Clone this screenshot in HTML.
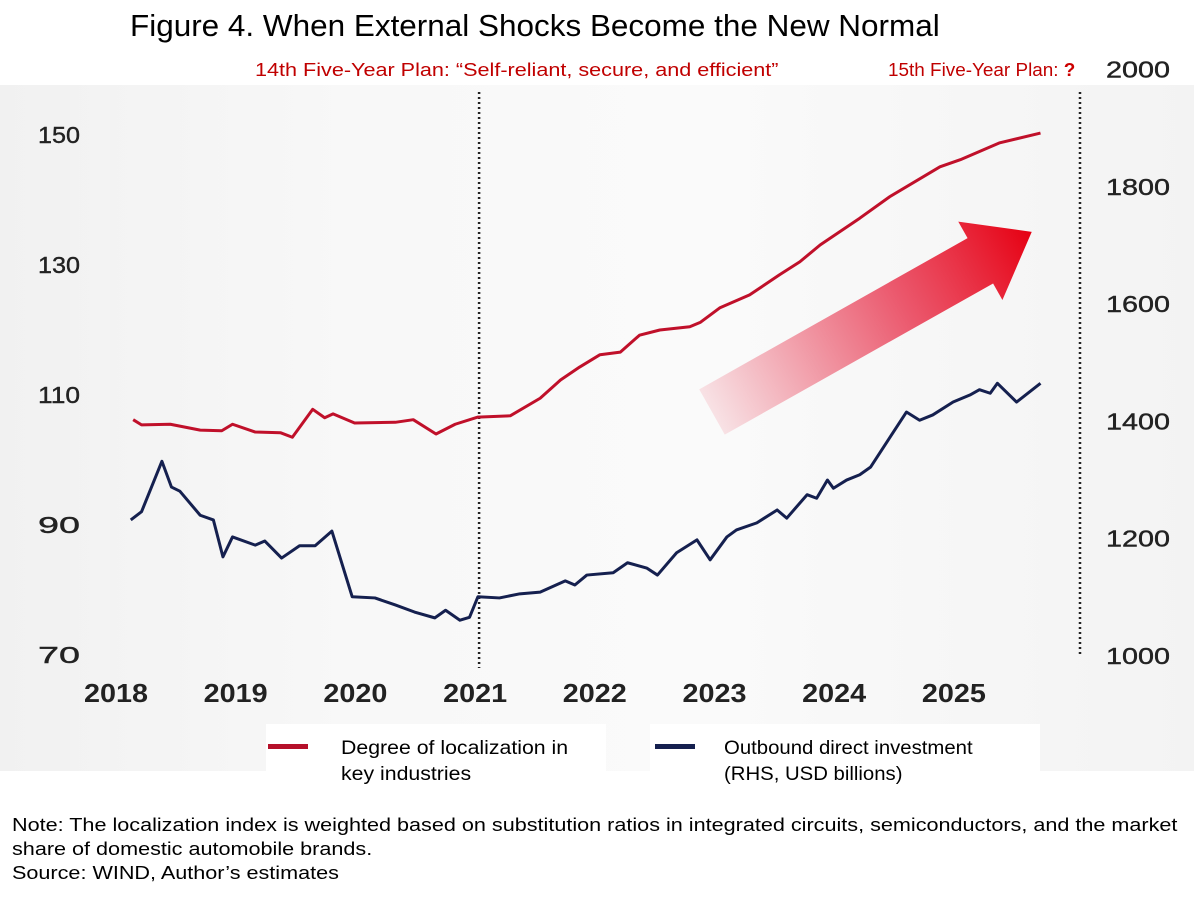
<!DOCTYPE html>
<html><head><meta charset="utf-8"><style>
body{margin:0;width:1194px;height:914px;background:#fff;overflow:hidden;font-family:"Liberation Sans",sans-serif;}
.t{position:absolute;white-space:nowrap;transform-origin:0 0;}
</style></head><body>
<div style="position:absolute;left:0;top:85px;width:1194px;height:686px;background:linear-gradient(90deg,#f1f1f1,#f8f8f8 30%,#fafafa 60%,#f3f3f3);"></div>
<div class="t" style="left:130px;top:8px;font-size:31px;color:#000;transform:scaleX(1.015)">Figure 4. When External Shocks Become the New Normal</div>
<div class="t" style="left:255px;top:60px;font-size:18px;color:#c00000;transform:scaleX(1.2)">14th Five-Year Plan: “Self-reliant, secure, and efficient”</div>
<div class="t" style="left:888px;top:60px;font-size:18px;color:#c00000;transform:scaleX(1.05)">15th Five-Year Plan: <b style="color:#c00;font-size:18px">?</b></div>
<div style="position:absolute;left:266px;top:724px;width:340px;height:70px;background:#fff"></div>
<div style="position:absolute;left:650px;top:724px;width:390px;height:70px;background:#fff"></div>
<svg id="c" width="1194" height="914" style="position:absolute;left:0;top:0">
<defs><linearGradient id="ag" x1="0" x2="1" y1="0" y2="0"><stop offset="0" stop-color="#e8304a" stop-opacity="0.12"/><stop offset="0.6" stop-color="#e8304a" stop-opacity="0.8"/><stop offset="1" stop-color="#e60012"/></linearGradient></defs>
</svg>
<div class="t" style="left:341px;top:736px;font-size:19px;line-height:26px;transform:scaleX(1.12)">Degree of localization in<br>key industries</div>
<div class="t" style="left:724px;top:736px;font-size:19px;line-height:26px;transform:scaleX(1.07)">Outbound direct investment<br>(RHS, USD billions)</div>
<div class="t" style="left:12px;top:813px;font-size:18px;line-height:24px;transform:scaleX(1.2)">Note: The localization index is weighted based on substitution ratios in integrated circuits, semiconductors, and the market<br>share of domestic automobile brands.<br>Source: WIND, Author’s estimates</div>
<script>
const leftTicks=[70,90,110,130,150];
const rightTicks=[1000,1200,1400,1600,1800,2000];
const years=[2018,2019,2020,2021,2022,2023,2024,2025];
const redT=[0.11,0.18,0.42,0.67,0.85,0.94,1.13,1.34,1.44,1.61,1.71,1.78,1.96,2.30,2.45,2.64,2.80,2.99,3.26,3.51,3.68,3.84,4.01,4.18,4.34,4.51,4.76,4.85,5.01,5.26,5.51,5.68,5.85,6.18,6.43,6.85,7.02,7.35,7.69];
const redV=[106.2,105.4,105.5,104.6,104.5,105.5,104.3,104.2,103.5,107.8,106.5,107.1,105.7,105.8,106.2,104.0,105.5,106.6,106.8,109.5,112.3,114.3,116.2,116.6,119.2,120,120.5,121.2,123.4,125.4,128.5,130.5,133.1,137.2,140.5,145.1,146.2,148.8,150.3];
const blueT=[0.09,0.18,0.35,0.43,0.50,0.67,0.78,0.86,0.94,1.13,1.21,1.35,1.50,1.63,1.77,1.94,2.13,2.30,2.46,2.63,2.72,2.84,2.92,2.99,3.17,3.34,3.51,3.72,3.80,3.90,4.12,4.24,4.40,4.49,4.65,4.82,4.93,5.07,5.15,5.32,5.49,5.57,5.74,5.82,5.91,5.96,6.07,6.18,6.27,6.57,6.68,6.79,6.96,7.10,7.18,7.27,7.33,7.49,7.69];
const blueV=[1232,1246,1332,1288,1281,1240,1232,1169,1203,1189,1196,1167,1188,1188,1213,1101,1099,1087,1075,1065,1078,1061,1066,1101,1099,1106,1109,1128,1121,1138,1142,1159,1150,1138,1176,1198,1164,1203,1215,1227,1249,1235,1275,1269,1300,1286,1300,1309,1322,1416,1402,1411,1433,1445,1454,1448,1465,1433,1465];
const X=t=>120+t*119.7;
const YL=v=>655-(v-70)*6.5;
const YR=v=>656-(v-1000)*0.5865;
const svg=document.getElementById('c');
const NS='http://www.w3.org/2000/svg';
function mk(tag,attrs){const e=document.createElementNS(NS,tag);for(const k in attrs)e.setAttribute(k,attrs[k]);svg.appendChild(e);return e;}
leftTicks.forEach(v=>{const e=mk('text',{x:38,y:YL(v)+8,'font-size':23,fill:'#222','font-family':'Liberation Sans, sans-serif',textLength:42,lengthAdjust:'spacingAndGlyphs',stroke:'#222','stroke-width':0.4});e.textContent=v;

});
rightTicks.forEach(v=>{const e=mk('text',{x:1106,y:YR(v)+8,'font-size':23,fill:'#222','font-family':'Liberation Sans, sans-serif',textLength:64,lengthAdjust:'spacingAndGlyphs',stroke:'#222','stroke-width':0.4});e.textContent=v;

});
years.forEach(y=>{const e=mk('text',{x:X(y-2018)-36,y:702,'font-size':26,'font-weight':'bold',fill:'#222','font-family':'Liberation Sans, sans-serif',textLength:64,lengthAdjust:'spacingAndGlyphs'});e.textContent=y;

});
let l=mk('line',{x1:X(3),x2:X(3),y1:92,y2:668,stroke:'#222','stroke-width':2.5,'stroke-dasharray':'2,3'});


l=mk('line',{x1:1080,x2:1080,y1:92,y2:656,stroke:'#222','stroke-width':2.5,'stroke-dasharray':'2,3'});


const ar=mk('polygon',{points:'0,-26 308,-26 308,-45 367,0 308,45 308,26 0,26',fill:'url(#ag)',transform:'translate(712,412) rotate(-29.4)'});


const rp=mk('polyline',{points:redT.map((t,i)=>X(t)+','+YL(redV[i])).join(' '),fill:'none',stroke:'#c0102a','stroke-width':3,'stroke-linejoin':'round'});


const bp=mk('polyline',{points:blueT.map((t,i)=>X(t)+','+YR(blueV[i])).join(' '),fill:'none',stroke:'#15204f','stroke-width':3,'stroke-linejoin':'round'});


let s=mk('rect',{x:268,y:744,width:40,height:5,fill:'#b5102a'});


s=mk('rect',{x:655,y:744,width:40,height:5,fill:'#15204f'});


</script>
</body></html>
